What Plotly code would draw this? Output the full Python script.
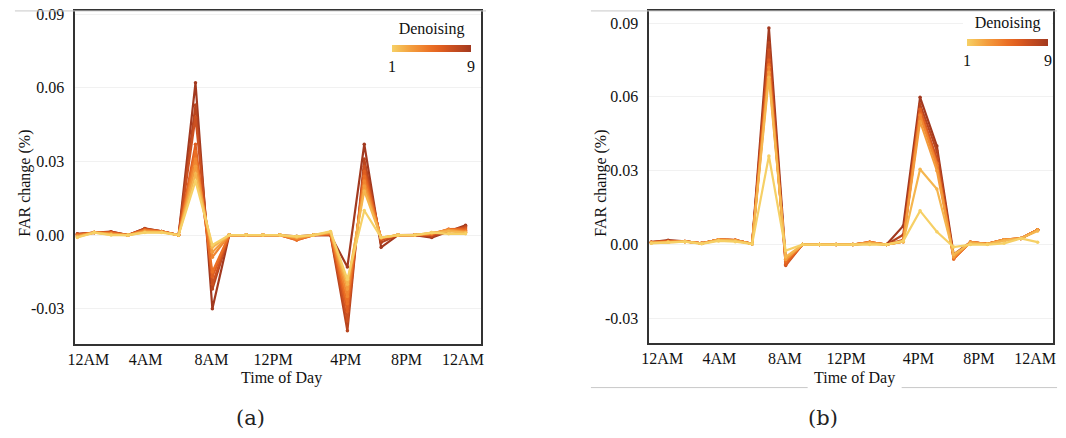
import plotly.graph_objects as go

HOURS = list(range(24))
TICK_LABELS = ["12AM", "4AM", "8AM", "12PM", "4PM", "8PM", "12AM"]
TICK_POS = [0.65, 4.05, 7.95, 11.6, 15.9, 19.5, 22.85]
Y_TICKS = [-0.03, 0.0, 0.03, 0.06, 0.09]
Y_TICK_TEXT = ["-0.03", "0.00", "0.03", "0.06", "0.09"]
LEVELS = [1, 2, 3, 4, 5, 6, 7, 8, 9]
COLORS = ["#F6D066", "#F5B64F", "#F39C3D", "#F08631", "#EA6F25",
          "#DF5E20", "#CB5020", "#B8451F", "#A2391F"]

# Panel (a) - FAR change per hour for denoising levels 1..9
A1 = [-0.001, 0.001, 0.0, 0.0, 0.001, 0.001, 0.0, 0.022, -0.004, 0, 0, 0, 0, -0.0005, 0, 0.0015, -0.018, 0.010, -0.001, 0, 0, 0.001, 0.0005, 0.0005]
A2 = [-0.0008, 0.001, 0.0002, 0.0, 0.0012, 0.0012, 0.0, 0.025, -0.005, 0, 0, 0, 0, -0.0008, 0, 0.0013, -0.020, 0.018, -0.001, 0, 0, 0.001, 0.0015, 0.001]
A3 = [-0.0005, 0.0012, 0.0004, 0.0, 0.0015, 0.0012, 0.0, 0.028, -0.007, 0, 0, 0, 0, -0.001, 0, 0.001, -0.022, 0.020, -0.001, 0, 0, 0.0008, 0.002, 0.0012]
A4 = [-0.0003, 0.001, 0.0006, 0.0, 0.0018, 0.0014, 0.0, 0.031, -0.009, 0, 0, 0, 0, -0.0015, 0, 0.0008, -0.025, 0.022, -0.0012, 0, 0, 0.0006, 0.0022, 0.0015]
A5 = [0.0, 0.001, 0.0008, 0.0, 0.002, 0.0014, 0.0, 0.034, -0.015, 0, 0, 0, 0, -0.002, 0, 0.0006, -0.028, 0.024, -0.0012, 0, 0, 0.0004, 0.0024, 0.002]
A6 = [0.0002, 0.001, 0.001, 0.0, 0.0022, 0.0015, 0.0, 0.037, -0.017, 0, 0, 0, 0, -0.002, 0, 0.0004, -0.031, 0.026, -0.0015, 0, 0, 0.0002, 0.0024, 0.0025]
A7 = [0.0003, 0.001, 0.0012, 0.0, 0.0024, 0.0015, 0.0, 0.048, -0.020, 0, 0, 0, 0, -0.0015, 0, 0.0002, -0.035, 0.028, -0.002, 0, 0, 0.0, 0.002, 0.003]
A8 = [0.0004, 0.001, 0.0013, 0.0, 0.0026, 0.0015, 0.0, 0.053, -0.022, 0, 0, 0, 0, -0.001, 0, 0.0, -0.039, 0.031, -0.003, 0, 0, -0.0005, 0.0015, 0.0035]
A9 = [0.0005, 0.001, 0.0014, 0.0, 0.0027, 0.0015, 0.0, 0.062, -0.030, 0, 0, 0, 0, -0.0005, 0, 0.0, -0.013, 0.037, -0.005, 0, 0, -0.001, 0.0015, 0.004]

# Panel (b)
B1 = [0.0005, 0.001, 0.0012, 0.0003, 0.0015, 0.0012, 0.0002, 0.036, -0.0024, 0, 0, 0, 0, 0.0, 0, 0.0015, 0.0137, 0.0052, -0.001, 0, 0.0, 0.0005, 0.0025, 0.001]
B2 = [0.0007, 0.001, 0.0012, 0.0004, 0.0018, 0.0015, 0.0003, 0.068, -0.005, 0, 0, 0, 0, 0.0005, 0, 0.0012, 0.0306, 0.0226, -0.004, 0.0005, 0.0002, 0.0015, 0.0025, 0.0055]
B3 = [0.0008, 0.0012, 0.0013, 0.0005, 0.002, 0.0017, 0.0003, 0.070, -0.006, 0, 0, 0, 0, 0.0008, 0, 0.0012, 0.050, 0.030, -0.005, 0.001, 0.0002, 0.002, 0.0025, 0.006]
B4 = [0.0008, 0.0012, 0.0013, 0.0005, 0.002, 0.0018, 0.0003, 0.072, -0.006, 0, 0, 0, 0, 0.001, 0, 0.0012, 0.0525, 0.032, -0.005, 0.001, 0.0003, 0.002, 0.0025, 0.006]
B5 = [0.0009, 0.0013, 0.0013, 0.0005, 0.002, 0.0018, 0.0003, 0.073, -0.007, 0, 0, 0, 0, 0.001, 0, 0.0012, 0.053, 0.033, -0.0058, 0.001, 0.0003, 0.002, 0.0025, 0.006]
B6 = [0.001, 0.0013, 0.0013, 0.0005, 0.002, 0.0018, 0.0003, 0.075, -0.008, 0, 0, 0, 0, 0.001, 0, 0.0015, 0.055, 0.033, -0.0058, 0.001, 0.0003, 0.002, 0.0025, 0.006]
B7 = [0.001, 0.0014, 0.0013, 0.0005, 0.002, 0.0018, 0.0003, 0.079, -0.0085, 0, 0, 0, 0, 0.001, 0, 0.002, 0.055, 0.035, -0.005, 0.001, 0.0003, 0.002, 0.0025, 0.006]
B8 = [0.001, 0.0015, 0.0013, 0.0005, 0.002, 0.0018, 0.0003, 0.082, -0.007, 0, 0, 0, 0, 0.0008, 0, 0.004, 0.057, 0.038, -0.005, 0.001, 0.0003, 0.0018, 0.0025, 0.006]
B9 = [0.001, 0.0018, 0.0013, 0.0005, 0.002, 0.0018, 0.0003, 0.088, -0.006, 0, 0, 0, 0, 0.0005, 0, 0.0076, 0.0598, 0.040, -0.004, 0.001, 0.0003, 0.0018, 0.0025, 0.006]

SERIES_A = [A1, A2, A3, A4, A5, A6, A7, A8, A9]
SERIES_B = [B1, B2, B3, B4, B5, B6, B7, B8, B9]

SERIF = "Liberation Serif, Times New Roman, serif"
W, H = 1066, 438

fig = go.Figure()
for idx in reversed(range(len(LEVELS))):
    for series, xa, ya in ((SERIES_A, "x", "y"), (SERIES_B, "x2", "y2")):
        fig.add_trace(go.Scatter(
            x=HOURS, y=series[idx], xaxis=xa, yaxis=ya, mode="lines+markers",
            line=dict(color=COLORS[idx], width=2.2),
            marker=dict(color=COLORS[idx], size=3.5),
            showlegend=False, hoverinfo="skip"))

# hidden traces that carry the colour bars
for ca in ("coloraxis", "coloraxis2"):
    fig.add_trace(go.Scatter(x=[None], y=[None], mode="markers",
                             xaxis="x" if ca == "coloraxis" else "x2",
                             yaxis="y" if ca == "coloraxis" else "y2",
                             marker=dict(color=[LEVELS[0]], coloraxis=ca),
                             showlegend=False, hoverinfo="skip"))

scale = [[i / (len(COLORS) - 1), c] for i, c in enumerate(COLORS)]


def px_x(p):
    return p / W


def px_y(p):
    return 1 - p / H


def cbar(cx, cy, ln):
    return dict(orientation="h", x=px_x(cx), xanchor="center", y=px_y(cy), yanchor="middle",
                len=ln, lenmode="pixels", thickness=7, outlinewidth=0,
                title=dict(text="Denoising", side="top", font=dict(family=SERIF, size=16, color="#111")),
                tickvals=[LEVELS[0], LEVELS[-1]], ticktext=[str(LEVELS[0]), str(LEVELS[-1])],
                ticks="", tickfont=dict(family=SERIF, size=16, color="#111"),
                bgcolor="white", xpad=4, ypad=2)


def xaxis(domain, anchor):
    return dict(domain=domain, anchor=anchor, range=[-0.12, 23.92], tickvals=TICK_POS,
                ticktext=TICK_LABELS, showgrid=False, zeroline=False, showline=True,
                linecolor="#333", linewidth=1.5, mirror=True, ticks="",
                tickfont=dict(family=SERIF, size=16, color="#111"))


def yaxis(domain, anchor, rng):
    return dict(domain=domain, anchor=anchor, range=rng, tickvals=Y_TICKS, ticktext=Y_TICK_TEXT,
                showgrid=True, gridcolor="#f1f1f1", gridwidth=1, zeroline=False,
                showline=True, linecolor="#333", linewidth=1.5, mirror=True, ticks="",
                ticklabelstandoff=6,
                tickfont=dict(family=SERIF, size=16, color="#111"))


fig.update_layout(
    width=W, height=H, margin=dict(l=0, r=0, t=0, b=0),
    paper_bgcolor="white", plot_bgcolor="white",
    xaxis=xaxis([px_x(68), px_x(478)], "y"),
    yaxis=yaxis([px_y(343), px_y(6)], "x", [-0.0444, 0.0913]),
    xaxis2=xaxis([px_x(648), px_x(1056)], "y2"),
    yaxis2=yaxis([px_y(342), px_y(6)], "x2", [-0.0400, 0.0949]),
    coloraxis=dict(colorscale=scale, cmin=LEVELS[0], cmax=LEVELS[-1], colorbar=cbar(428, 43, 87)),
    coloraxis2=dict(colorscale=scale, cmin=LEVELS[0], cmax=LEVELS[-1], colorbar=cbar(1010, 37, 89)),
    showlegend=False,
)

ann_font = dict(family=SERIF, size=16, color="#111")


def ann(text, x, y, size=16, family=SERIF, angle=0, color="#111"):
    return dict(text=text, x=px_x(x), y=px_y(y), xref="paper", yref="paper",
                xanchor="center", yanchor="middle", showarrow=False, textangle=angle,
                font=dict(family=family, size=size, color=color))


annotations = [
    ann("Time of Day", 276, 377),
    ann("Time of Day", 855, 377),
    ann("FAR change (%)", 17, 180, angle=-90),
    ann("FAR change (%)", 599, 180, angle=-90),
    ann("(a)", 245, 418, size=21, family="DejaVu Serif, serif", color="#222"),
    ann("(b)", 824, 418, size=21, family="DejaVu Serif, serif", color="#222"),
]
fig.update_layout(annotations=annotations)

line_style = dict(color="#c8c8c8", width=1)
shapes = [
    dict(type="line", xref="paper", yref="paper", x0=px_x(7), x1=px_x(483), y0=px_y(6), y1=px_y(6), line=line_style),
    dict(type="line", xref="paper", yref="paper", x0=px_x(589), x1=px_x(1060), y0=px_y(6), y1=px_y(6), line=line_style),
    dict(type="line", xref="paper", yref="paper", x0=px_x(589), x1=px_x(808), y0=px_y(387), y1=px_y(387), line=line_style),
    dict(type="line", xref="paper", yref="paper", x0=px_x(903), x1=px_x(1060), y0=px_y(387), y1=px_y(387), line=line_style),
]
fig.update_layout(shapes=shapes)

fig.write_html("out.html")
